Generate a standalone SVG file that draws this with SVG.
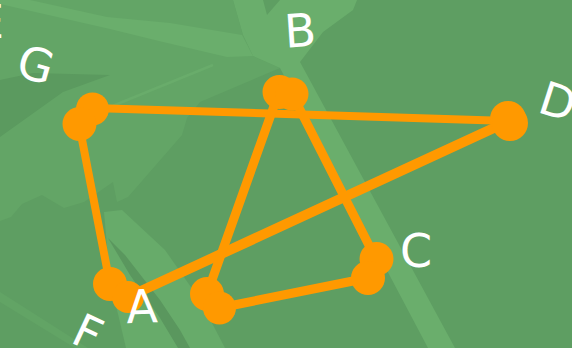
<svg xmlns="http://www.w3.org/2000/svg" width="572" height="348" viewBox="0 0 572 348">
<style>
.edge{stroke:#ff9900;stroke-linecap:round;fill:none}
.node circle{fill:#ff9900}
.lbl{font-family:"DejaVu Sans",sans-serif;font-size:46px;fill:#ffffff;text-anchor:middle}
</style>
<g id="background">
<rect x="0" y="0" width="572" height="348" fill="#5e9e62"/>
<polygon fill="#63a566" points="0,0 233,0 243,35 253,56 280,68 200,102 187,118 182,135 128,197 117,202 113,182 84,202 64,208 42,195 22,204 11,217 0,221"/>
<polygon fill="#5b9a5f" points="0,80 33,73 110,75 63,92 0,137"/>
<polygon fill="#6aae6c" points="0,0 30,0 107,17 170,23 242,35 253,56 227,57 163,42 110,29 0,4"/>
<polygon fill="#6aae6c" points="233,0 263,0 267,15 280,0 357,0 353,10 323,32 300,62 455,348 428,348 280,68 253,56 243,35"/>
<line x1="213" y1="65" x2="110" y2="107" stroke="#69ac6b" stroke-width="2.5"/>
<polygon fill="#67ab6a" points="104,212 122,210 165,250 200,300 225,348 126,348 110,280"/>
<polygon fill="#5a975e" points="108,238 125,255 160,300 180,330 190,348 178,348 160,318 130,275"/>
<polygon fill="#62a465" points="0,292 88,348 75,348 0,302"/>
</g>
<g id="connectors">
<line class="edge" stroke-width="8" x1="92" y1="108" x2="509" y2="121"/>
<line class="edge" stroke-width="8" x1="79" y1="124" x2="110" y2="284"/>
<line class="edge" stroke-width="10" x1="509" y1="121" x2="128" y2="297"/>
<line class="edge" stroke-width="9" x1="279" y1="92" x2="207" y2="294"/>
<line class="edge" stroke-width="9" x1="292" y1="94" x2="376" y2="259"/>
<line class="edge" stroke-width="9" x1="219" y1="308" x2="368" y2="278"/>
</g>
<g id="node-G" class="node"><circle cx="92.5" cy="109" r="16.5"/><circle cx="79.5" cy="124" r="17"/></g>
<g id="node-B" class="node"><circle cx="279.5" cy="92" r="17"/><circle cx="292" cy="94" r="16.5"/></g>
<g id="node-D" class="node"><circle cx="508" cy="119" r="18"/><circle cx="510" cy="123" r="18"/></g>
<g id="node-C" class="node"><circle cx="376.5" cy="259" r="17"/><circle cx="368" cy="278" r="17"/></g>
<g id="node-A" class="node"><circle cx="110" cy="284" r="17"/><circle cx="128" cy="297" r="16"/></g>
<g id="node-H" class="node"><circle cx="207" cy="294" r="17"/><circle cx="219.5" cy="308" r="16.5"/></g>
<g id="labels">
<text class="lbl" transform="translate(300,30) rotate(-4)" y="16.8">B</text>
<text class="lbl" transform="translate(36,64) rotate(16)" y="16.8">G</text>
<text class="lbl" transform="translate(558,101) rotate(18)" y="16.8">D</text>
<text class="lbl" transform="translate(416,250)" y="16.8">C</text>
<text class="lbl" transform="translate(142,306) rotate(-2)" y="16.8">A</text>
<text class="lbl" transform="translate(88,332) rotate(25)" y="16.8">F</text>
<text class="lbl" style="text-anchor:end" x="4" y="38">E</text>
</g>
</svg>
